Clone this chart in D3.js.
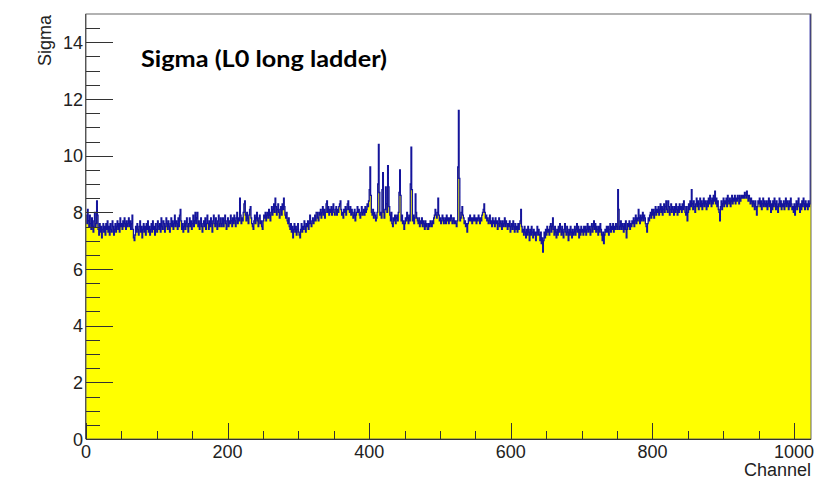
<!DOCTYPE html>
<html>
<head>
<meta charset="utf-8">
<script src="https://cdn.jsdelivr.net/npm/d3@7"></script>
<style>
  html, body { margin: 0; padding: 0; background: #fff; }
  svg { display: block; }
  .tick-label { font-family: "Liberation Sans", Arial, sans-serif; font-size: 18px; fill: #222; }
</style>
</head>
<body>
<svg id="chart" width="832" height="491"></svg>
<script>
// Noise (sigma) per readout channel of the L0 long ladder, channels 0..1023
const sigma = [
  7.9, 7.6, 8.1, 7.7, 7.5, 7.9, 7.6, 7.4, 7.8, 7.5, 7.3, 7.7, 8.0, 7.5, 7.6, 8.4,
  7.9, 7.4, 7.2, 7.6, 7.3, 7.5, 7.1, 7.4, 7.6, 7.3, 7.5, 7.2, 7.6, 7.4, 7.7, 7.3,
  7.5, 7.2, 7.6, 7.4, 7.3, 7.7, 7.5, 7.2, 7.4, 7.6, 7.3, 7.5, 7.7, 7.4, 7.6, 7.3,
  7.8, 7.5, 7.6, 7.4, 7.7, 7.5, 7.8, 7.6, 7.4, 7.7, 7.5, 7.6, 7.8, 7.5, 7.7, 7.4,
  7.6, 7.9, 7.4, 7.1, 7.0, 7.2, 7.5, 7.3, 7.6, 7.4, 7.2, 7.5, 7.7, 7.3, 7.5, 7.1,
  7.4, 7.6, 7.3, 7.5, 7.2, 7.6, 7.4, 7.7, 7.3, 7.5, 7.2, 7.4, 7.6, 7.3, 7.7, 7.4,
  7.5, 7.2, 7.6, 7.4, 7.3, 7.7, 7.5, 7.4, 7.6, 7.3, 7.8, 7.5, 7.4, 7.7, 7.6, 7.3,
  7.5, 7.8, 7.6, 7.4, 7.7, 7.5, 7.3, 7.6, 7.8, 7.5, 7.7, 7.4, 7.6, 7.9, 7.5, 7.7,
  7.6, 7.4, 7.8, 7.5, 7.9, 8.1, 7.7, 7.4, 7.6, 7.3, 7.5, 7.7, 7.4, 7.6, 7.8, 7.5,
  7.3, 7.6, 7.8, 7.5, 7.7, 7.4, 7.6, 7.9, 7.5, 7.7, 8.0, 7.6, 7.8, 8.0, 7.5, 7.7,
  7.4, 7.6, 7.8, 7.5, 7.3, 7.6, 7.7, 7.5, 7.8, 7.4, 7.6, 7.9, 7.6, 7.4, 7.7, 7.5,
  7.8, 7.6, 7.3, 7.7, 7.9, 7.6, 7.5, 7.8, 7.6, 7.4, 7.7, 7.9, 7.5, 7.6, 7.8, 7.5,
  7.6, 7.8, 7.5, 7.7, 7.9, 7.6, 7.4, 7.7, 7.8, 7.5, 7.7, 7.6, 7.9, 7.7, 7.5, 7.8,
  7.6, 7.9, 7.7, 7.5, 7.8, 8.0, 7.6, 7.8, 7.7, 8.5, 7.9, 7.6, 7.8, 7.7, 8.0, 8.3,
  8.4, 7.9, 7.7, 8.0, 7.8, 7.6, 7.9, 8.1, 8.2, 7.8, 7.6, 7.5, 7.4, 7.7, 7.9, 7.6,
  7.8, 8.0, 7.7, 7.5, 7.8, 7.9, 7.6, 7.7, 7.5, 7.4, 7.7, 7.9, 7.8, 8.0, 7.7, 7.9,
  8.0, 7.8, 8.1, 7.9, 7.7, 8.0, 8.2, 7.9, 8.1, 8.3, 8.0, 8.5, 8.2, 7.9, 8.1, 8.3,
  8.0, 7.8, 8.1, 8.2, 7.9, 8.3, 8.1, 8.5, 8.2, 7.9, 7.8, 8.0, 7.7, 7.6, 7.8, 7.5,
  7.4, 7.6, 7.3, 7.5, 7.1, 7.4, 7.6, 7.3, 7.5, 7.2, 7.4, 7.6, 7.3, 7.2, 7.1, 7.4,
  7.6, 7.3, 7.5, 7.4, 7.7, 7.5, 7.3, 7.6, 7.5, 7.7, 7.4, 7.6, 7.9, 7.6, 7.5, 7.7,
  7.8, 7.6, 7.7, 7.9, 7.7, 8.0, 8.0, 7.8, 7.7, 8.0, 7.9, 8.1, 7.8, 8.0, 8.2, 7.9,
  8.1, 7.8, 8.0, 8.3, 8.4, 8.0, 8.2, 7.9, 8.1, 8.0, 8.2, 7.9, 8.1, 8.3, 8.0, 7.9,
  8.1, 8.2, 7.9, 8.1, 8.0, 8.2, 8.3, 8.4, 8.1, 7.9, 8.0, 7.8, 8.1, 8.0, 8.2, 7.9,
  8.1, 8.3, 8.4, 8.1, 8.0, 8.2, 7.9, 8.1, 8.0, 7.8, 7.9, 8.1, 7.7, 7.9, 8.0, 8.2,
  8.0, 8.1, 7.9, 7.8, 8.0, 8.2, 7.9, 8.0, 8.1, 7.9, 8.2, 8.0, 8.1, 8.3, 8.2, 8.4,
  8.8, 9.6, 8.6, 8.0, 7.9, 8.1, 7.8, 8.0, 7.9, 7.7, 7.8, 8.0, 9.0, 10.4, 8.7, 7.9,
  8.0, 7.8, 8.8, 9.4, 8.0, 7.8, 8.1, 8.9, 8.3, 8.0, 9.65, 8.9, 8.2, 7.9, 7.7, 8.0,
  7.6, 7.5, 7.8, 7.7, 7.9, 7.6, 7.8, 7.9, 7.7, 8.0, 8.7, 9.5, 8.6, 7.7, 7.9, 7.6,
  7.7, 7.4, 7.6, 7.8, 7.7, 8.0, 7.8, 7.6, 7.9, 7.7, 9.0, 10.3, 8.8, 7.7, 7.9, 7.6,
  7.8, 8.65, 8.0, 7.8, 7.7, 7.6, 7.8, 7.5, 7.7, 7.6, 7.8, 7.5, 7.7, 7.6, 7.4, 7.7,
  7.5, 7.6, 7.4, 7.4, 7.6, 7.5, 7.7, 7.6, 7.5, 7.7, 7.6, 7.8, 7.9, 8.1, 7.9, 7.8,
  8.0, 8.5, 7.9, 7.7, 7.8, 7.6, 7.7, 7.9, 7.8, 7.6, 7.7, 7.8, 7.6, 7.9, 7.7, 7.8,
  7.6, 7.8, 7.7, 7.9, 7.8, 7.6, 7.7, 7.8, 7.6, 7.7, 7.6, 7.5, 7.7, 9.6, 11.6, 9.2,
  7.7, 7.8, 8.0, 8.2, 7.9, 7.8, 7.6, 7.7, 7.5, 7.6, 7.3, 7.6, 7.8, 7.7, 7.9, 7.7,
  7.8, 7.6, 7.8, 7.7, 7.9, 7.7, 7.8, 7.6, 7.8, 7.7, 7.9, 7.8, 7.6, 7.8, 7.7, 7.9,
  8.0, 8.1, 8.3, 8.0, 7.8, 7.9, 7.7, 7.8, 7.6, 7.7, 7.9, 7.6, 7.7, 7.5, 7.8, 7.6,
  7.7, 7.5, 7.8, 7.6, 7.7, 7.4, 7.6, 7.8, 7.5, 7.7, 7.6, 7.4, 7.7, 7.5, 7.6, 7.8,
  7.5, 7.7, 7.6, 7.4, 7.6, 7.5, 7.7, 7.3, 7.5, 7.6, 7.4, 7.7, 7.5, 7.3, 7.6, 7.4,
  7.5, 7.3, 7.6, 7.4, 7.6, 7.7, 8.1, 7.5, 7.3, 7.4, 7.2, 7.5, 7.3, 7.1, 7.4, 7.2,
  7.5, 7.3, 7.0, 7.4, 7.2, 7.5, 7.3, 7.1, 7.4, 7.2, 7.3, 7.0, 7.3, 7.5, 7.2, 7.4,
  7.2, 7.0, 7.3, 6.9, 7.1, 6.6, 7.0, 7.3, 7.1, 7.4, 7.2, 7.5, 7.3, 7.4, 7.2, 7.5,
  7.6, 7.3, 7.5, 7.8, 7.4, 7.2, 7.5, 7.3, 7.1, 7.4, 7.2, 7.5, 7.3, 7.6, 7.4, 7.2,
  7.5, 7.3, 7.1, 7.4, 7.6, 7.3, 7.2, 7.5, 7.3, 7.0, 7.4, 7.2, 7.5, 7.3, 7.1, 7.4,
  7.2, 7.3, 7.5, 7.2, 7.4, 7.6, 7.3, 7.5, 7.1, 7.4, 7.2, 7.5, 7.3, 7.4, 7.2, 7.5,
  7.3, 7.5, 7.2, 7.4, 7.6, 7.3, 7.5, 7.4, 7.2, 7.5, 7.6, 7.3, 7.5, 7.7, 7.4, 7.6,
  7.3, 7.5, 7.4, 7.2, 7.5, 7.3, 7.6, 7.4, 7.2, 7.0, 7.3, 6.9, 7.2, 7.4, 7.3, 7.5,
  7.3, 7.5, 7.2, 7.4, 7.6, 7.3, 7.5, 7.4, 7.6, 7.3, 7.5, 7.4, 7.6, 7.5, 7.4, 8.8,
  8.1, 7.4, 7.5, 7.7, 7.4, 7.6, 7.5, 7.3, 7.6, 7.4, 7.7, 7.1, 7.4, 7.6, 7.5, 7.7,
  7.4, 7.6, 7.5, 7.7, 7.6, 7.8, 7.5, 7.7, 7.9, 7.6, 7.8, 7.7, 8.1, 7.8, 7.6, 7.9,
  7.7, 7.8, 8.0, 7.7, 7.9, 7.8, 7.6, 7.5, 7.3, 7.6, 7.8, 7.7, 7.9, 8.0, 7.8, 8.1,
  7.9, 8.1, 7.8, 8.0, 8.2, 7.9, 8.1, 8.0, 8.2, 7.9, 8.1, 8.3, 8.0, 8.2, 7.9, 8.1,
  8.3, 8.0, 8.2, 8.4, 8.1, 8.0, 8.4, 8.2, 7.9, 8.1, 8.3, 8.0, 8.2, 8.1, 7.9, 8.2,
  8.0, 8.3, 8.1, 7.9, 8.2, 8.0, 8.3, 8.1, 8.2, 8.0, 8.3, 8.1, 8.4, 8.2, 8.0, 7.9,
  8.2, 7.7, 8.0, 8.3, 8.1, 8.4, 8.2, 8.8, 8.3, 8.1, 8.4, 8.2, 8.0, 8.3, 8.5, 8.2,
  8.4, 8.1, 8.3, 8.5, 8.2, 8.4, 8.1, 8.3, 8.5, 8.2, 8.4, 8.3, 8.1, 8.4, 8.2, 8.5,
  8.3, 8.6, 8.4, 8.2, 8.5, 8.3, 8.6, 8.4, 8.75, 8.3, 8.5, 8.2, 8.4, 8.1, 8.0, 7.7,
  8.2, 8.4, 8.1, 8.3, 8.5, 8.2, 8.4, 8.3, 8.5, 8.2, 8.6, 8.4, 8.3, 8.5, 8.2, 8.4,
  8.6, 8.3, 8.5, 8.4, 8.6, 8.3, 8.5, 8.4, 8.6, 8.5, 8.3, 8.6, 8.4, 8.5, 8.6, 8.5,
  8.6, 8.5, 8.7, 8.6, 8.5, 8.75, 8.6, 8.4, 8.6, 8.5, 8.3, 8.5, 8.4, 8.2, 8.4, 8.3,
  8.1, 8.4, 8.2, 7.9, 8.2, 8.4, 8.3, 8.5, 8.2, 8.4, 8.1, 8.3, 8.5, 8.2, 8.4, 8.3,
  8.2, 8.4, 8.1, 8.3, 8.5, 8.2, 8.4, 8.0, 8.3, 8.1, 8.4, 8.2, 8.5, 8.3, 8.1, 8.4,
  8.2, 8.0, 8.3, 8.5, 8.2, 8.4, 8.1, 8.3, 8.2, 8.4, 8.1, 8.3, 8.5, 8.2, 8.4, 8.3,
  8.1, 8.4, 8.2, 8.5, 8.3, 8.1, 8.2, 8.0, 8.3, 7.9, 8.2, 8.4, 8.1, 8.3, 8.5, 8.2,
  8.0, 8.3, 8.1, 8.4, 8.2, 8.5, 8.3, 8.1, 8.4, 8.2, 8.3, 8.1, 8.4, 8.2, 8.3, 15.6
];

const xTickValues = [0, 200, 400, 600, 800, 1000];
const yTickValues = [0, 2, 4, 6, 8, 10, 12, 14];
const titleText = "Sigma (L0 long ladder)";
const xTitle = "Channel";
const yTitle = "Sigma";

const nChannels = 1024;
const frame = { left: 86, right: 811, top: 14, bottom: 439 };

const svg = d3.select("#chart");

const x = d3.scaleLinear().domain([0, nChannels]).range([frame.left, frame.right]);
const y = d3.scaleLinear().domain([0, 15]).range([frame.bottom, frame.top]);

svg.append("defs").append("clipPath").attr("id", "frame-clip")
  .append("rect")
  .attr("x", frame.left).attr("y", frame.top)
  .attr("width", frame.right - frame.left).attr("height", frame.bottom - frame.top);

// Histogram bins as steps: each channel spans [i, i+1)
const steps = sigma.map((v, i) => [i, v]);
steps.push([nChannels, sigma[sigma.length - 1]]);

const plot = svg.append("g").attr("clip-path", "url(#frame-clip)");

plot.append("path")
  .datum(steps)
  .attr("fill", "#ffff00")
  .attr("d", d3.area()
    .curve(d3.curveStepAfter)
    .x(d => x(d[0]))
    .y0(y(0))
    .y1(d => y(d[1])));

plot.append("path")
  .datum(steps)
  .attr("fill", "none")
  .attr("stroke", "#14149c")
  .attr("stroke-width", 1.3)
  .attr("stroke-linejoin", "miter")
  .attr("d", d3.line()
    .curve(d3.curveStepAfter)
    .x(d => x(d[0]))
    .y(d => y(d[1])));

// Frame
svg.append("rect")
  .attr("x", frame.left).attr("y", frame.top)
  .attr("width", frame.right - frame.left).attr("height", frame.bottom - frame.top)
  .attr("fill", "none").attr("stroke", "#666").attr("stroke-width", 1);

const tickColor = "#333";

// X axis ticks: minor every 50, major every 200
const xMinor = d3.range(0, nChannels + 1, 50);
svg.append("g").selectAll("line")
  .data(xMinor)
  .join("line")
  .attr("x1", d => Math.round(x(d)) + 0.5).attr("x2", d => Math.round(x(d)) + 0.5)
  .attr("y1", frame.bottom)
  .attr("y2", d => frame.bottom - (d % 200 === 0 ? 16 : 8))
  .attr("stroke", tickColor).attr("stroke-width", 1);

svg.append("line")
  .attr("x1", frame.left).attr("x2", frame.right)
  .attr("y1", frame.bottom + 0.5).attr("y2", frame.bottom + 0.5)
  .attr("stroke", tickColor);

svg.append("g").selectAll("text")
  .data(xTickValues)
  .join("text")
  .attr("class", "tick-label")
  .attr("x", d => x(d))
  .attr("y", 458)
  .attr("text-anchor", "middle")
  .text(d => d);

// Y axis ticks: minor every 0.5, major every 2
const yMinor = d3.range(0, 15, 0.5);
svg.append("g").selectAll("line")
  .data(yMinor)
  .join("line")
  .attr("x1", frame.left)
  .attr("x2", d => frame.left + (d % 2 === 0 ? 27 : 14))
  .attr("y1", d => Math.round(y(d)) + 0.5).attr("y2", d => Math.round(y(d)) + 0.5)
  .attr("stroke", tickColor).attr("stroke-width", 1);

svg.append("line")
  .attr("x1", frame.left - 0.5).attr("x2", frame.left - 0.5)
  .attr("y1", frame.top).attr("y2", frame.bottom)
  .attr("stroke", "#555");

svg.append("g").selectAll("text")
  .data(yTickValues)
  .join("text")
  .attr("class", "tick-label")
  .attr("x", 83)
  .attr("y", d => y(d) + 6.5)
  .attr("text-anchor", "end")
  .text(d => d);

// Axis titles
svg.append("text")
  .attr("class", "tick-label")
  .attr("x", frame.right)
  .attr("y", 476)
  .attr("text-anchor", "end")
  .text(xTitle);

svg.append("text")
  .attr("class", "tick-label")
  .attr("transform", "translate(51,15) rotate(-90)")
  .attr("text-anchor", "end")
  .text(yTitle);

// Plot title
svg.append("text")
  .attr("x", 141)
  .attr("y", 67)
  .attr("font-family", "Lato, 'Open Sans', sans-serif")
  .attr("font-weight", "bold")
  .attr("font-size", 23)
  .attr("fill", "#000")
  .attr("textLength", 246)
  .attr("lengthAdjust", "spacingAndGlyphs")
  .text(titleText);
</script>
</body>
</html>
